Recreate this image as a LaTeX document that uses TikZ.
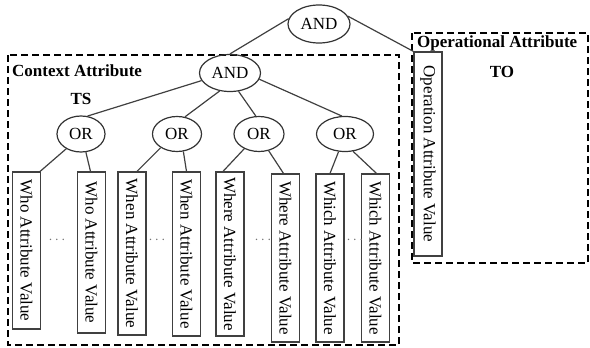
\documentclass[tikz,border=0pt]{standalone}
\usepackage{fontspec}
\setmainfont{Liberation Serif}
\usetikzlibrary{shapes.geometric,calc}
\begin{document}
\begin{tikzpicture}[x=1pt,y=-1pt,
  every node/.style={font=\fontsize{17}{20}\selectfont},
  gate/.style={ellipse,draw=black!80,line width=1.2pt,inner sep=0pt},
  leaf/.style={rectangle,draw=black!75,line width=1.2pt,rotate=-90,inner sep=0pt,minimum height=28pt},
  conn/.style={draw=black!75,line width=1.2pt},
  group/.style={draw=black,line width=1.7pt,dash pattern=on 7pt off 4pt},
  lbl/.style={font=\fontsize{17}{20}\selectfont\bfseries,inner sep=0pt},
  dotsnode/.style={text=black!55,font=\fontsize{15}{15}\selectfont,inner sep=0pt}]
\useasboundingbox (0,0) rectangle (590,348);
% group boxes
\draw[group] (8,55) rectangle (399,345);
\draw[group] (412,33) rectangle (588,263);
\node[lbl,anchor=west] (ctx) at (12,71) {Context Attribute};
\node[lbl] (ts) at (81,99) {TS};
\node[lbl,anchor=west] (opl) at (417,43) {Operational Attribute};
\node[lbl] (to) at (502,72) {TO};
% gates
\node[gate,minimum width=62pt,minimum height=38pt] (and1) at (319,24) {AND};
\node[gate,minimum width=61pt,minimum height=37pt] (and2) at (230,73) {AND};
\node[gate,minimum width=48pt,minimum height=36pt] (or1) at (81,134) {OR};
\node[gate,minimum width=49pt,minimum height=35pt] (or2) at (177,134) {OR};
\node[gate,minimum width=50pt,minimum height=35pt] (or3) at (259,134) {OR};
\node[gate,minimum width=57pt,minimum height=35pt] (or4) at (345,134) {OR};
% leaves
\node[leaf,minimum width=157pt] (w1) at (26.5,250.5) {Who Attribute Value};
\node[leaf,minimum width=161pt] (w2) at (91.5,252.5) {Who Attribute Value};
\node[leaf,minimum width=163pt] (n1) at (132,253.5) {When Attribute Value};
\node[leaf,minimum width=164pt] (n2) at (186.5,254) {When Attribute Value};
\node[leaf,minimum width=164pt] (r1) at (230,254) {Where Attribute Value};
\node[leaf,minimum width=168pt] (r2) at (285.5,258) {Where Attribute Value};
\node[leaf,minimum width=168pt] (c1) at (330,258) {Which Attribute Value};
\node[leaf,minimum width=168pt] (c2) at (375.5,258) {Which Attribute Value};
\node[leaf,minimum width=204pt] (op) at (428,154) {Operation Attribute Value};
% dots
\node[dotsnode] (d1) at (57,240) {$\cdots$};
\node[dotsnode] (d2) at (157,240) {$\cdots$};
\node[dotsnode] (d3) at (263,240) {$\cdots$};
\node[dotsnode] (d4) at (355,240) {$\cdots$};
% connectors
\draw[conn] (and1.170) -- (and2.north);
\draw[conn] (and1.15) -- (op.south west);
\draw[conn] (and2.195) -- (or1.70);
\draw[conn] (and2.240) -- (or2.65);
\draw[conn] (and2.295) -- (or3.100);
\draw[conn] (and2.-12) -- (or4.100);
\draw[conn] (or1.225) -- ($(w1.north west)+(-1,0)$);
\draw[conn] (or1.285) -- ($(w2.west)+(-1,0)$);
\draw[conn] (or2.220) -- ($(n1.west)+(5,0)$);
\draw[conn] (or2.290) -- (n2.west);
\draw[conn] (or3.225) -- ($(r1.west)+(-7,0)$);
\draw[conn] (or3.300) -- ($(r2.west)+(-2,0)$);
\draw[conn] (or4.250) -- (c1.west);
\draw[conn] (or4.295) -- ($(c2.west)+(1,0)$);
\end{tikzpicture}
\end{document}
